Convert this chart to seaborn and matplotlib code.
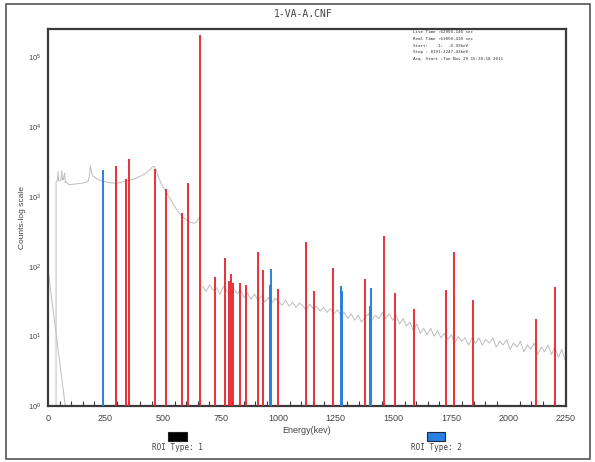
import numpy as np
import pandas as pd
import matplotlib
matplotlib.use("Agg")
import matplotlib.pyplot as plt
from matplotlib.patches import Rectangle
from matplotlib.ticker import MultipleLocator, FixedLocator
import seaborn as sns

# ---------------- data ----------------
title = "1-VA-A.CNF"
info_lines = [
    "Live Time :62950.140 sec",
    "Real Time :63050.410 sec",
    "Start:    1:  -0.93keV",
    "Stop : 8191:2247.43keV",
    "Acq. Start :Tue Nov 29 15:30:18 2011",
]

# low-energy artefact segment
low_e = [0, 75]
low_c = [90, 1]

# continuum below the 661 keV peak
cont1_e = [35, 35, 40, 44, 46, 50, 56, 60, 63, 66, 72, 75, 78, 85, 95, 110, 130, 150,
           165, 175, 180, 184, 188, 195, 210, 230, 250, 270, 290, 310, 330, 350, 370,
           390, 410, 430, 445, 455, 462, 470, 480, 490, 500, 515, 530, 545, 560, 575,
           590, 605, 620, 635, 645, 652, 658]
cont1_c = [1, 1650, 1700, 2300, 1700, 1700, 1750, 2400, 1800, 1750, 2200, 1600, 1650,
           1550, 1500, 1520, 1550, 1580, 1620, 1700, 2000, 2800, 2300, 2000, 1850, 1700,
           1650, 1600, 1580, 1600, 1650, 1720, 1800, 1900, 2050, 2250, 2500, 2750, 2700,
           2400, 1900, 1600, 1400, 1150, 950, 780, 650, 560, 500, 460, 430, 420, 440,
           480, 520]

# continuum above the 661 keV peak
cont2_e = [672, 687, 702, 717, 732, 747, 762, 777, 792, 807, 822, 837, 852, 867, 882, 897,
           912, 927, 942, 957, 972, 987, 1002, 1017, 1032, 1047, 1062, 1077, 1092, 1107,
           1122, 1137, 1152, 1167, 1182, 1197, 1212, 1227, 1242, 1257, 1272, 1287, 1302,
           1317, 1332, 1347, 1362, 1377, 1392, 1407, 1422, 1437, 1452, 1467, 1482, 1497,
           1512, 1527, 1542, 1557, 1572, 1587, 1602, 1617, 1632, 1647, 1662, 1677, 1692,
           1707, 1722, 1737, 1752, 1767, 1782, 1797, 1812, 1827, 1842, 1857, 1872, 1887,
           1902, 1917, 1932, 1947, 1962, 1977, 1992, 2007, 2022, 2037, 2052, 2067, 2082,
           2097, 2112, 2127, 2142, 2157, 2172, 2187, 2202, 2217, 2232, 2247]
cont2_c = [52, 44, 55, 46, 50, 40, 52, 45, 38, 48, 41, 46, 36, 42, 34, 40,
           33, 38, 31, 36, 30, 35, 31, 28, 33, 27, 31, 26, 30, 27,
           24, 29, 25, 27, 23, 26, 22, 25, 21, 24, 20, 22, 18,
           21, 17, 20, 16, 19, 21, 17, 20, 18, 22, 18, 21, 17,
           20, 15, 18, 14, 16, 12, 15, 11, 13, 10.5, 13, 10, 12,
           9.5, 11, 9, 10.5, 8, 10, 8.5, 9.5, 7.5, 9.5, 8, 9.5, 7.5,
           9, 8, 9.5, 7, 8.5, 7.5, 9, 6.5, 8, 7, 8.5, 6, 7.5,
           6.5, 8, 5.5, 7, 6, 7.5, 5.5, 7, 5, 6.5, 4.5]

# ROI type 1 peaks (red)
red_e = [295, 338, 351, 463, 511, 583, 609, 661, 727, 768, 785, 794, 803, 835, 860,
         911, 934, 1001, 1120, 1155, 1238, 1377, 1460, 1509, 1588, 1729, 1764, 1847,
         2118, 2204]
red_c = [2750, 1780, 3500, 2500, 1300, 590, 1590, 210000, 72, 133, 63, 78, 59, 59, 55,
         160, 88, 48, 224, 45, 95, 66, 271, 42, 25, 46, 160, 33, 18, 51]

# ROI type 2 peaks (blue)
blue_e = [240, 964, 968, 1274, 1279, 1399, 1401]
blue_c = [2450, 55, 92, 52, 44, 27, 49]

x_ticks = [0, 250, 500, 750, 1000, 1250, 1500, 1750, 2000, 2250]
legend_labels = ["ROI Type: 1", "ROI Type: 2"]

# ---------------- style ----------------
sns.set_style("white")
plt.rcParams["font.family"] = ["Liberation Sans", "DejaVu Sans"]

W, H = 595, 462
fig = plt.figure(figsize=(W / 100, H / 100), dpi=100)

def fx(px):
    return px / W

def fy(py):
    return (H - py) / H

L, R, T, B = 48, 566, 29, 406
ax = fig.add_axes([fx(L), fy(B), (R - L) / W, (B - T) / H])

RED = "#e8202a"
BLUE = "#2a7fe0"
GRAY = "#bdbdbd"

df_low = pd.DataFrame({"E": low_e, "c": low_c})
df1 = pd.DataFrame({"E": cont1_e, "c": cont1_c})
df2 = pd.DataFrame({"E": cont2_e, "c": cont2_c})
for d in (df_low, df1, df2):
    sns.lineplot(data=d, x="E", y="c", ax=ax, color=GRAY, lw=0.7, sort=False,
                 estimator=None, legend=False)

ax.vlines(red_e, 1, red_c, color=RED, lw=1.3, zorder=3)
ax.vlines(blue_e, 1, blue_c, color=BLUE, lw=1.4, zorder=3)

ax.set_yscale("log")
ax.set_ylim(1, 10 ** 5.41)
ax.set_xlim(0, 2250)
ax.xaxis.set_major_locator(FixedLocator(x_ticks))
ax.xaxis.set_minor_locator(MultipleLocator(50))
ax.yaxis.set_major_locator(FixedLocator([1, 10, 100, 1000, 1e4, 1e5]))
ax.yaxis.set_minor_locator(FixedLocator([]))

for s in ax.spines.values():
    s.set_color("#3a3a3a")
    s.set_linewidth(1.6)

ax.tick_params(axis="x", which="major", direction="inout", length=7, width=0.9,
               color="#3a3a3a", labelsize=6.5, labelcolor="#444444", pad=2)
ax.tick_params(axis="x", which="minor", direction="in", length=3.5, width=0.8,
               color="#3a3a3a", bottom=True)
ax.tick_params(axis="y", which="major", direction="inout", length=7, width=0.9,
               color="#3a3a3a", labelsize=5.5, labelcolor="#444444", pad=1.5)

ax.set_xlabel("Energy(kev)", fontsize=6.5, color="#444444")
ax.xaxis.set_label_coords(0.5, -0.053)
ax.set_ylabel("Counts-log scale", fontsize=6, color="#444444")
ax.yaxis.set_label_coords(-0.043, 0.5)

# title
fig.text(fx(303), fy(14), title, ha="center", va="center",
         family="DejaVu Sans Mono", fontsize=7, color="#444444")

# info text
for i, line in enumerate(info_lines):
    fig.text(fx(413), fy(32 + i * 6.8), line, ha="left", va="center",
             family="DejaVu Sans Mono", fontsize=3.1, color="#333333")

# legend
fig.patches.append(Rectangle((fx(168), fy(441)), 19 / W, 9 / H, transform=fig.transFigure,
                             facecolor="black", edgecolor="#222222", lw=0.8))
fig.patches.append(Rectangle((fx(427), fy(441)), 18 / W, 9 / H, transform=fig.transFigure,
                             facecolor=BLUE, edgecolor="#1a2a44", lw=0.8))
fig.text(fx(177), fy(447), legend_labels[0], ha="center", va="center",
         family="DejaVu Sans Mono", fontsize=5.5, color="#444444")
fig.text(fx(436), fy(447), legend_labels[1], ha="center", va="center",
         family="DejaVu Sans Mono", fontsize=5.5, color="#444444")

# outer frame
fig.patches.append(Rectangle((fx(6), fy(459)), (590 - 6) / W, (459 - 3.5) / H,
                             transform=fig.transFigure, fill=False,
                             edgecolor="#555555", lw=1.2))

fig.savefig("out.png", dpi=100)
